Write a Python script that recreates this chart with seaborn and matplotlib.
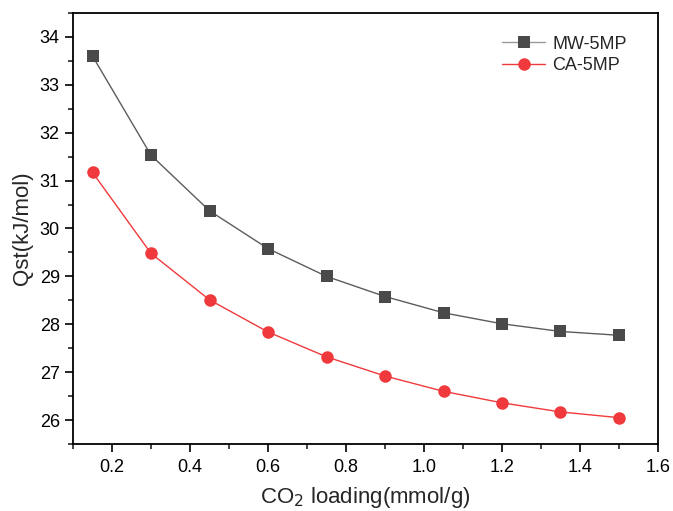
import numpy as np
import pandas as pd
import seaborn as sns
import matplotlib.pyplot as plt
from matplotlib.ticker import MultipleLocator

# CO2 loading (mmol/g)
loading = [0.15, 0.30, 0.45, 0.60, 0.75, 0.90, 1.05, 1.20, 1.35, 1.50]
qst_mw = [33.60, 31.53, 30.37, 29.58, 29.00, 28.58, 28.24, 28.01, 27.85, 27.77]
qst_ca = [31.17, 29.48, 28.51, 27.84, 27.32, 26.92, 26.60, 26.36, 26.17, 26.05]
series_names = ['MW-5MP', 'CA-5MP']

sns.set_theme(style='ticks')
plt.rcParams['font.family'] = ['Liberation Sans', 'DejaVu Sans']

df = pd.DataFrame({
    'x': loading * 2,
    'y': qst_mw + qst_ca,
    'sample': [series_names[0]] * len(loading) + [series_names[1]] * len(loading),
})

fig = plt.figure(figsize=(6.73, 5.11), dpi=100)
ax = fig.add_axes([0.1085, 0.1311, 0.8692, 0.8435])

palette = {'MW-5MP': '#4a4a4a', 'CA-5MP': '#f0393c'}
markers = {'MW-5MP': 's', 'CA-5MP': 'o'}
sns.lineplot(data=df, x='x', y='y', hue='sample', style='sample',
             palette=palette, markers=markers, dashes=False,
             markersize=9, markeredgewidth=0, linewidth=1, ax=ax)

# lighter grey connecting line for MW, as in the original
ax.get_lines()[0].set_color('#5c5c5c')
ax.get_lines()[0].set_markerfacecolor('#4a4a4a')

ax.set_xlim(0.1, 1.6)
ax.set_ylim(25.5, 34.5)
ax.xaxis.set_minor_locator(MultipleLocator(0.1))
ax.yaxis.set_major_locator(MultipleLocator(1))
ax.yaxis.set_minor_locator(MultipleLocator(0.5))
xt = np.arange(0.2, 1.61, 0.2)
ax.set_xticks(xt)
ax.set_xticklabels([f'{v:.1f}' for v in xt])

ax.tick_params(axis='both', which='major', direction='out', length=6, width=1.2,
               labelsize=13, colors='black', top=False, right=False)
ax.tick_params(axis='x', which='major', pad=5)
ax.tick_params(axis='both', which='minor', direction='out', length=3.5, width=1.2,
               top=False, right=False)
for sp in ax.spines.values():
    sp.set_linewidth(1.3)
    sp.set_color('black')

ax.set_xlabel('CO$_2$ loading(mmol/g)', fontsize=16, labelpad=6)
ax.set_ylabel('Qst(kJ/mol)', fontsize=16, labelpad=5)

leg = ax.legend(loc='upper right', bbox_to_anchor=(0.975, 0.985), frameon=False,
                fontsize=13, handlelength=2.4, handletextpad=0.4, labelspacing=0.25)
leg.set_title(None)
leg.get_lines()[0].set_color('#9a9a9a')
leg.get_lines()[0].set_markerfacecolor('#4a4a4a')

fig.savefig('out.png', dpi=100)
